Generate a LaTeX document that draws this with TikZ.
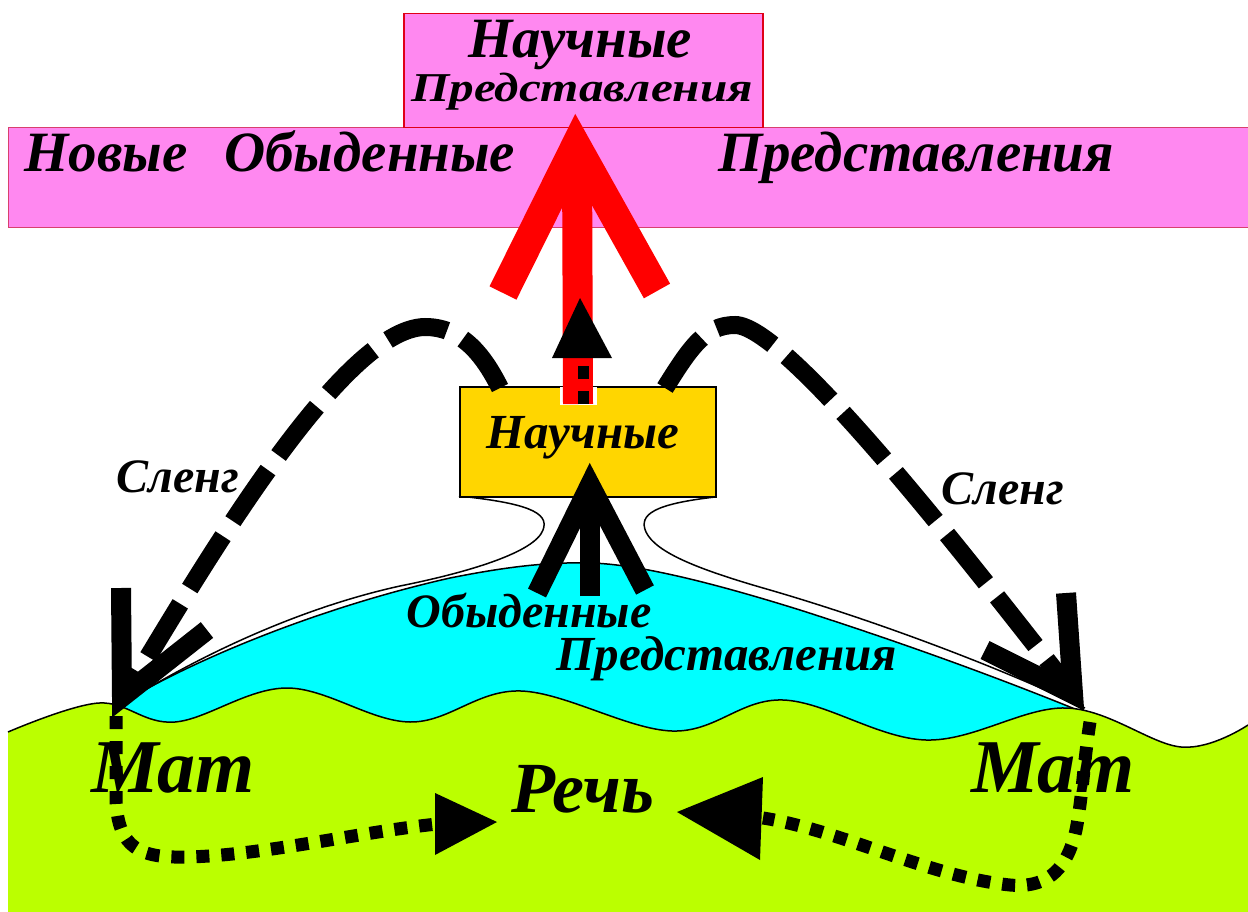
\documentclass[tikz,border=0pt]{standalone}
\usepackage{graphicx}
\usepackage{fontspec}
\setmainfont{Liberation Serif}
\newcommand{\fsz}[1]{\fontsize{#1}{#1}\selectfont}
\definecolor{pinkband}{HTML}{FF88F0}
\definecolor{pinkedge}{HTML}{D8406E}
\definecolor{boxred}{HTML}{E00018}
\definecolor{gold}{HTML}{FFD600}
\definecolor{lime}{HTML}{BBFF00}
\definecolor{aqua}{HTML}{00FFFF}
\begin{document}
\begin{tikzpicture}[x=1pt,y=-1pt,
  lbl/.style={inner sep=0pt, anchor=base, font=\bfseries\itshape},
  outline/.style={draw=black, line width=1.5pt},
  dashline/.style={draw=black, line width=18pt, dash pattern=on 62pt off 18pt},
  dotline/.style={draw=black, line width=13pt, dash pattern=on 13pt off 12pt},
  vhead/.style={draw=black, line width=20pt, miter limit=10},
  redarrow/.style={draw=red, line width=30pt, miter limit=10}]
\useasboundingbox[fill=white] (0,0) rectangle (1248,912);

% pink band and top box
\node (band) [draw=pinkedge, line width=1pt, fill=pinkband, anchor=north west,
  minimum width=1242pt, minimum height=100pt, inner sep=0pt] at (8,127) {};
\node (sci) [draw=boxred, line width=1.5pt, fill=pinkband, anchor=north west,
  minimum width=359pt, minimum height=114pt, inner sep=0pt] at (403,13) {};

% cyan hill
\fill[aqua] (115,707) .. controls (200,655) and (330,605) .. (450,578)
  .. controls (510,566) and (550,562) .. (590,563)
  .. controls (640,564) and (720,585) .. (800,610)
  .. controls (900,642) and (1000,678) .. (1092,716) -- (1092,775) -- (115,775) -- cycle;
\draw[outline] (115,707) .. controls (200,655) and (330,605) .. (450,578)
  .. controls (510,566) and (550,562) .. (590,563)
  .. controls (640,564) and (720,585) .. (800,610)
  .. controls (900,642) and (1000,678) .. (1092,716);

% green ground
\fill[lime] (8,912) -- (8,732) -- plot[smooth, tension=0.6] coordinates {(8,732) (99,703) (175,722) (287,688) (410,722) (521,691) (672,731) (783,700) (926,740) (1066,708) (1181,747) (1248,725)} -- (1248,912) -- cycle;
\draw[outline] plot[smooth, tension=0.6] coordinates {(8,732) (99,703) (175,722) (287,688) (410,722) (521,691) (672,731) (783,700) (926,740) (1066,708) (1181,747) (1248,725)};

% neck lines
\draw[outline] (459,496) .. controls (525,503) and (550,512) .. (543,530)
  .. controls (535,552) and (470,572) .. (400,586)
  .. controls (300,608) and (200,655) .. (122,704);
\draw[outline] (715,497) .. controls (655,504) and (638,514) .. (646,532)
  .. controls (656,553) and (700,570) .. (770,590)
  .. controls (880,622) and (1000,668) .. (1085,708);

% yellow box
\node (sb) [draw=black, line width=2pt, fill=gold, anchor=north west,
  minimum width=256pt, minimum height=110pt, inner sep=0pt] at (459,386) {};

% red arrow
\draw[white, line width=37pt] (578,405) -- (578,387);
\draw[redarrow] (578,404) -- (577,150);
\draw[redarrow] (503,293) -- (576,146) -- (657,291);

% small black dotted arrow in red stem
\draw[black, line width=11pt, dash pattern=on 13pt off 12pt] (583,404) -- (583,356);
\fill[black] (552,358) -- (580,298) -- (612,358) -- cycle;

% central black arrow
\draw[vhead] (590,596) -- (590,485);
\draw[vhead] (537,593) -- (590,485) -- (645,590);

% slang dashed arrows
\draw[dashline] (500,388) .. controls (482,352) and (460,327) .. (425,327)
  .. controls (340,328) and (195,580) .. (128,690);
\draw[vhead] (121,588) -- (122,697) -- (207,630);
\draw[dashline] (665,388) .. controls (690,348) and (705,325) .. (735,325)
  .. controls (790,325) and (995,595) .. (1072,692);
\draw[vhead] (1066,593) -- (1073,694) -- (985,650);

% dotted arrows to speech
\draw[dotline] (116,716) -- (116,800) .. controls (118,848) and (140,858) .. (185,857)
  .. controls (260,856) and (360,832) .. (437,824);
\fill[black] (435,793) -- (497,822) -- (435,855) -- cycle;
\draw[dotline] (1090,722) .. controls (1084,760) and (1082,800) .. (1076,830)
  .. controls (1066,875) and (1042,888) .. (1010,885)
  .. controls (930,877) and (840,830) .. (763,818);
\fill[black] (763,777) -- (677,812) -- (760,860) -- cycle;

% texts
\node (t1) [lbl, font=\bfseries\itshape\fsz{57}] at (580,58) {Научные};
\node (t2) [lbl, font=\bfseries\itshape\fsz{41}] at (582,102) {\scalebox{1.2}[1]{Представления}};
\node (t3) [lbl, font=\bfseries\itshape\fsz{57}, anchor=base west] at (24,172) {Новые\hspace{0.65em}Обыденные};
\node (t4) [lbl, font=\bfseries\itshape\fsz{57}] at (916,172) {Представления};
\node (t5) [lbl, font=\bfseries\itshape\fsz{49}] at (583,448) {Научные};
\node (t6) [lbl, font=\bfseries\itshape\fsz{48}] at (178,492) {Сленг};
\node (t7) [lbl, font=\bfseries\itshape\fsz{48}] at (1003,504) {Сленг};
\node (t8) [lbl, font=\bfseries\itshape\fsz{48}] at (529,627) {Обыденные};
\node (t9) [lbl, font=\bfseries\itshape\fsz{49}] at (727,670) {Представления};
\node (t10) [lbl, font=\bfseries\itshape\fsz{76}] at (173,792) {Мат};
\node (t11) [lbl, font=\bfseries\itshape\fsz{76}] at (1053,792) {Мат};
\node (t12) [lbl, font=\bfseries\itshape\fsz{72}] at (583,812) {Речь};
\end{tikzpicture}
\end{document}
